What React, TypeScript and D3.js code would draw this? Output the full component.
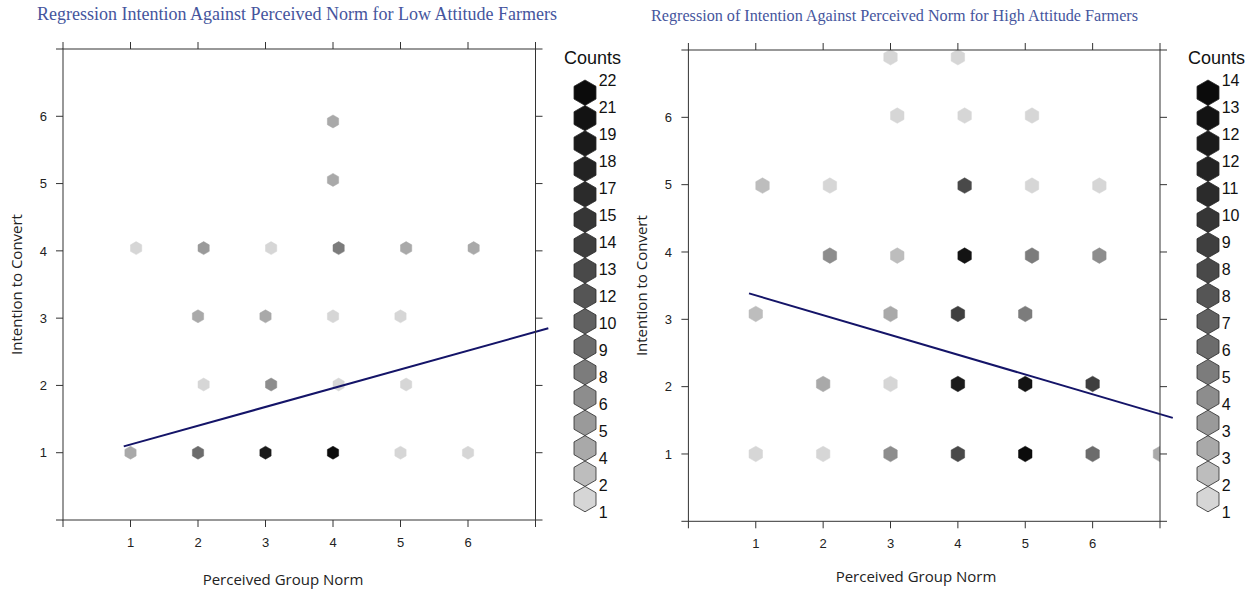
import React from 'react';
import * as d3 from 'd3';

// ---------- data ----------
const normTicks = [1, 2, 3, 4, 5, 6];
const intentionTicks = [1, 2, 3, 4, 5, 6];
const frameTicks = [0, 1, 2, 3, 4, 5, 6, 7];
const axisDomain = [0, 7];

// Low attitude farmers: (perceived norm, intention, count)
const lowNorm = [1, 2, 3, 4, 5, 6, 2, 3, 4, 5, 2, 3, 4, 5, 1, 2, 3, 4, 5, 6, 4, 4];
const lowIntention = [1, 1, 1, 1, 1, 1, 2, 2, 2, 2, 3, 3, 3, 3, 4, 4, 4, 4, 4, 4, 5, 6];
const lowCount = [3, 9, 19, 22, 1, 1, 1, 6, 1, 1, 4, 4, 1, 1, 1, 5, 1, 8, 4, 4, 4, 4];

// High attitude farmers
const highNorm = [3, 4, 3, 4, 5, 1, 2, 4, 5, 6, 2, 3, 4, 5, 6, 1, 3, 4, 5, 2, 3, 4, 5, 6, 1, 2, 3, 4, 5, 6, 7];
const highIntention = [7, 7, 6, 6, 6, 5, 5, 5, 5, 5, 4, 4, 4, 4, 4, 3, 3, 3, 3, 2, 2, 2, 2, 2, 1, 1, 1, 1, 1, 1, 1];
const highCount = [1, 1, 1, 1, 1, 2, 1, 8, 1, 1, 4, 2, 13, 5, 4, 2, 3, 9, 5, 3, 1, 12, 13, 9, 1, 1, 4, 8, 14, 6, 3];

// regression fits: [intercept, slope]
const lowFit = [0.843, 0.279];
const highFit = [3.65, -0.294];
const fitRange = [0.9, 7.19];

// legend count labels (bottom to top)
const lowLegendLabels = ['1', '2', '4', '5', '6', '8', '9', '10', '12', '13', '14', '15', '17', '18', '19', '21', '22'];
const highLegendLabels = ['1', '2', '3', '3', '4', '5', '6', '7', '8', '8', '9', '10', '11', '12', '12', '13', '14'];

// grey ramp (light -> dark), 17 levels
const grayLevels = [
  '#d6d6d6', '#bdbdbd', '#a9a9a9', '#9a9a9a', '#8d8d8d', '#7c7c7c', '#6c6c6c', '#616161',
  '#555555', '#494949', '#3f3f3f', '#363636', '#2b2b2b', '#232323', '#1b1b1b', '#131313', '#0b0b0b',
];

const titleColor = '#45559d';
const lineColor = '#141468';
const frameColor = '#333333';
const textColor = '#222222';

// ---------- helpers ----------
function hexPoints(cx: number, cy: number, r: number) {
  const pts: string[] = [];
  for (let k = 0; k < 6; k++) {
    const a = (Math.PI / 180) * (60 * k - 90);
    pts.push(`${(cx + r * Math.cos(a)).toFixed(2)},${(cy + r * Math.sin(a)).toFixed(2)}`);
  }
  return pts.join(' ');
}

// R-hexbin style lattice assignment (two lattices, ties go up/right)
function hexCenter(px: number, py: number, ox: number, oy: number, dx: number) {
  const dy = (dx * Math.sqrt(3)) / 2;
  const eps = 1e-7;
  const u = (px - ox) / dx;
  const v = (oy - py) / (2 * dy);
  const i1 = Math.round(u + eps);
  const j1 = Math.round(v + eps);
  const i2 = Math.floor(u + eps) + 0.5;
  const j2 = Math.floor(v + eps) + 0.5;
  const c1 = { cx: ox + i1 * dx, cy: oy - j1 * 2 * dy };
  const c2 = { cx: ox + i2 * dx, cy: oy - j2 * 2 * dy };
  const d1 = (c1.cx - px) ** 2 + (c1.cy - py) ** 2;
  const d2 = (c2.cx - px) ** 2 + (c2.cy - py) ** 2;
  return d1 <= d2 ? c1 : c2;
}

type PanelCfg = {
  id: string;
  title: string;
  titleX: number;
  titleY: number;
  titleSize: number;
  titleLen: number;
  left: number;
  right: number;
  top: number;
  bottom: number;
  norm: number[];
  intention: number[];
  count: number[];
  fit: number[];
  legendLabels: string[];
  legendX: number;
  legendTop: number;
  legendR: number;
  countsX: number;
  axisFont: number;
  xlabX: number;
  xlabY: number;
  ylabX: number;
  tickFont: number;
  yTickX: number;
};

function Panel({ cfg }: { cfg: PanelCfg }) {
  const x = d3.scaleLinear().domain(axisDomain).range([cfg.left, cfg.right]);
  const y = d3.scaleLinear().domain(axisDomain).range([cfg.bottom, cfg.top]);
  const xmin = d3.min(cfg.norm)!;
  const xmax = d3.max(cfg.norm)!;
  const ymin = d3.min(cfg.intention)!;
  const ox = x(xmin);
  const oy = y(ymin);
  const dx = (x(xmax) - x(xmin)) / 30;
  const r = dx / Math.sqrt(3);
  const maxCount = d3.max(cfg.count)!;
  const hexes = cfg.norm.map((n, i) => {
    const c = hexCenter(x(n), y(cfg.intention[i]), ox, oy, dx);
    const level = Math.max(0, Math.min(16, Math.round(((cfg.count[i] - 1) / (maxCount - 1)) * 16)));
    return { ...c, fill: grayLevels[level] };
  });
  const line = d3
    .line<number>()
    .x((v) => x(v))
    .y((v) => y(cfg.fit[0] + cfg.fit[1] * v));
  const tl = 7;
  const nL = cfg.legendLabels.length;
  const R = cfg.legendR;
  const colH = nL * 2 * R;
  const clipId = `clip-${cfg.id}`;
  const midY = (cfg.top + cfg.bottom) / 2;

  return (
    <g>
      <text
        x={cfg.titleX}
        y={cfg.titleY}
        fontFamily="'Liberation Serif', 'DejaVu Serif', serif"
        fontSize={cfg.titleSize}
        fill={titleColor}
        textLength={cfg.titleLen}
        lengthAdjust="spacingAndGlyphs"
      >
        {cfg.title}
      </text>
      <defs>
        <clipPath id={clipId}>
          <rect x={cfg.left} y={cfg.top} width={cfg.right - cfg.left} height={cfg.bottom - cfg.top} />
        </clipPath>
      </defs>
      <g clipPath={`url(#${clipId})`}>
        {hexes.map((h, i) => (
          <polygon key={i} points={hexPoints(h.cx, h.cy, r)} fill={h.fill} stroke={h.fill} strokeWidth={0.5} />
        ))}
      </g>
      <path d={line(fitRange) || ''} fill="none" stroke={lineColor} strokeWidth={2} />
      <rect
        x={cfg.left}
        y={cfg.top}
        width={cfg.right - cfg.left}
        height={cfg.bottom - cfg.top}
        fill="none"
        stroke={frameColor}
        strokeWidth={1}
      />
      {frameTicks.map((t) => (
        <g key={t} stroke={frameColor} strokeWidth={1}>
          <line x1={x(t)} x2={x(t)} y1={cfg.bottom} y2={cfg.bottom + tl} />
          <line x1={x(t)} x2={x(t)} y1={cfg.top} y2={cfg.top - tl} />
          <line x1={cfg.left} x2={cfg.left - tl} y1={y(t)} y2={y(t)} />
          <line x1={cfg.right} x2={cfg.right + tl} y1={y(t)} y2={y(t)} />
        </g>
      ))}
      {normTicks.map((t) => (
        <text
          key={t}
          x={x(t)}
          y={cfg.bottom + 27}
          textAnchor="middle"
          fontFamily="'Liberation Sans', Arial, sans-serif"
          fontSize={cfg.tickFont}
          fill={textColor}
        >
          {t}
        </text>
      ))}
      {intentionTicks.map((t) => (
        <text
          key={t}
          x={cfg.yTickX}
          y={y(t) + cfg.tickFont * 0.36}
          textAnchor="end"
          fontFamily="'Liberation Sans', Arial, sans-serif"
          fontSize={cfg.tickFont}
          fill={textColor}
        >
          {t}
        </text>
      ))}
      <text
        x={cfg.xlabX}
        y={cfg.xlabY}
        textAnchor="middle"
        fontFamily="'Open Sans', 'Noto Sans', sans-serif"
        fontSize={cfg.axisFont}
        fill={textColor}
      >
        Perceived Group Norm
      </text>
      <text
        transform={`translate(${cfg.ylabX},${midY}) rotate(-90)`}
        textAnchor="middle"
        fontFamily="'Open Sans', 'Noto Sans', sans-serif"
        fontSize={cfg.axisFont}
        fill={textColor}
      >
        Intention to Convert
      </text>
      <text
        x={cfg.countsX}
        y={cfg.legendTop - 16}
        fontFamily="'Liberation Sans', Arial, sans-serif"
        fontSize={18}
        fill="#111"
      >
        Counts
      </text>
      {cfg.legendLabels.map((lab, k) => {
        const cy = cfg.legendTop + colH - R - k * 2 * R;
        return (
          <polygon
            key={`h${k}`}
            points={hexPoints(cfg.legendX, cy, R)}
            fill={grayLevels[k]}
            stroke="#2a2a2a"
            strokeWidth={0.8}
          />
        );
      })}
      {cfg.legendLabels.map((lab, k) => {
        const ly = cfg.legendTop + colH - (k * colH) / (nL - 1);
        return (
          <text
            key={`l${k}`}
            x={cfg.legendX + R + 1}
            y={ly + 6}
            fontFamily="'Liberation Sans', Arial, sans-serif"
            fontSize={16}
            fill="#111"
          >
            {lab}
          </text>
        );
      })}
    </g>
  );
}

const panels: PanelCfg[] = [
  {
    id: 'low',
    title: 'Regression Intention Against Perceived Norm for Low Attitude Farmers',
    titleX: 37,
    titleY: 20,
    titleSize: 18,
    titleLen: 520,
    left: 63,
    right: 535.5,
    top: 49,
    bottom: 520,
    norm: lowNorm,
    intention: lowIntention,
    count: lowCount,
    fit: lowFit,
    legendLabels: lowLegendLabels,
    legendX: 585,
    legendTop: 80,
    legendR: 12.7,
    countsX: 564,
    axisFont: 15,
    xlabX: 283,
    xlabY: 585,
    ylabX: 22,
    tickFont: 13,
    yTickX: 47,
  },
  {
    id: 'high',
    title: 'Regression of Intention Against Perceived Norm for High Attitude Farmers',
    titleX: 651,
    titleY: 21,
    titleSize: 16,
    titleLen: 487,
    left: 688.4,
    right: 1160,
    top: 50,
    bottom: 521.3,
    norm: highNorm,
    intention: highIntention,
    count: highCount,
    fit: highFit,
    legendLabels: highLegendLabels,
    legendX: 1208,
    legendTop: 80,
    legendR: 12.7,
    countsX: 1188,
    axisFont: 15,
    xlabX: 916,
    xlabY: 582,
    ylabX: 647,
    tickFont: 13,
    yTickX: 672,
  },
];

export default function App() {
  return (
    <svg
      width={1260}
      height={590}
      style={{ position: 'absolute', left: 0, top: 0, background: '#fff' }}
      xmlns="http://www.w3.org/2000/svg"
    >
      <rect x={0} y={0} width={1260} height={590} fill="#fff" />
      {panels.map((p) => (
        <Panel key={p.id} cfg={p} />
      ))}
    </svg>
  );
}
